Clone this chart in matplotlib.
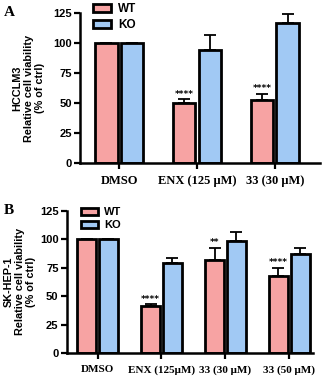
import numpy as np
import matplotlib.pyplot as plt

# panel A data (HCCLM3)
groups_a = ['DMSO', 'ENX (125 μM)', '33 (30 μM)']
wt_a = [100, 50, 52.5]
wt_a_err = [0, 3, 5]
ko_a = [100, 94.5, 116.5]
ko_a_err = [0, 12, 8]
stars_a = ['', '****', '****']

# panel B data (SK-HEP-1)
groups_b = ['DMSO', 'ENX (125μM)', '33 (30 μM)', '33 (50 μM)']
wt_b = [100, 41, 81.5, 68]
wt_b_err = [0, 2, 11, 7]
ko_b = [100, 79.5, 99, 87.5]
ko_b_err = [0, 4, 8, 5]
stars_b = ['', '****', '**', '****']

yticks = [0, 25, 50, 75, 100, 125]

WT_COLOR = '#F7A3A3'
KO_COLOR = '#A1C9F4'

fig = plt.figure(figsize=(3.23, 3.77), dpi=100)


def panel(ax, groups, wt, wt_err, ko, ko_err, stars, ylabel, width, off, xfs, lpad):
    x = np.arange(len(groups))
    ekw = dict(ecolor='black', elinewidth=1.3, capsize=4.5, capthick=1.3)
    # only upper half of the error bars, like the original
    ax.bar(x - off, wt, width, color=WT_COLOR, edgecolor='black', linewidth=2,
           yerr=[np.zeros(len(wt)), wt_err], error_kw=ekw, label='WT')
    ax.bar(x + off, ko, width, color=KO_COLOR, edgecolor='black', linewidth=2,
           yerr=[np.zeros(len(ko)), ko_err], error_kw=ekw, label='KO')
    for s, xi, v, e in zip(stars, x, wt, wt_err):
        if s:
            ax.text(xi - off, v + e + 0.5, s, ha='center', va='bottom', fontsize=6.5,
                    fontweight='bold')
    ax.set_ylim(0, 125)
    ax.set_yticks(yticks)
    ax.set_xticks(x)
    ax.set_xticklabels(groups, fontfamily='Liberation Serif', fontweight='bold',
                       fontsize=xfs)
    for lab in ax.get_yticklabels():
        lab.set_fontfamily('Liberation Sans')
        lab.set_fontweight('bold')
        lab.set_fontsize(8)
    ax.tick_params(axis='both', width=1.6, length=4, direction='out', pad=2)
    ax.tick_params(axis='x', pad=5)
    ax.spines['top'].set_visible(False)
    ax.spines['right'].set_visible(False)
    for sp in ['left', 'bottom']:
        ax.spines[sp].set_linewidth(1.8)
    ax.set_ylabel(ylabel, fontfamily='Liberation Sans', fontweight='bold', fontsize=7.8,
                  linespacing=1.15, labelpad=lpad)


axA = fig.add_axes([0.248, 0.568, 0.743, 0.397])
axA.set_xlim(-0.5, 2.58)
panel(axA, groups_a, wt_a, wt_a_err, ko_a, ko_a_err, stars_a,
      'HCCLM3\nRelative cell viability\n(% of ctrl)', 0.29, 0.165, 9, 6)
axA.legend(loc='upper left', bbox_to_anchor=(0.035, 1.1), frameon=False,
           prop={'family': 'Liberation Sans', 'weight': 'bold', 'size': 8.5},
           handlelength=1.5, handleheight=0.6, handletextpad=0.6,
           labelspacing=0.35, borderaxespad=0)

axB = fig.add_axes([0.207, 0.064, 0.762, 0.376])
axB.set_xlim(-0.48, 3.37)
panel(axB, groups_b, wt_b, wt_b_err, ko_b, ko_b_err, stars_b,
      'SK-HEP-1\nRelative cell viability\n(% of ctrl)', 0.3, 0.17, 8, 3)
axB.legend(loc='upper left', bbox_to_anchor=(0.04, 1.06), frameon=False,
           prop={'family': 'Liberation Sans', 'weight': 'bold', 'size': 8},
           handlelength=1.5, handleheight=0.6, handletextpad=0.6,
           labelspacing=0.3, borderaxespad=0)

fig.text(0.012, 0.985, 'A', fontfamily='Liberation Serif', fontweight='bold',
         fontsize=11, va='top')
fig.text(0.012, 0.46, 'B', fontfamily='Liberation Serif', fontweight='bold',
         fontsize=11, va='top')

fig.savefig('out.png', dpi=100)
